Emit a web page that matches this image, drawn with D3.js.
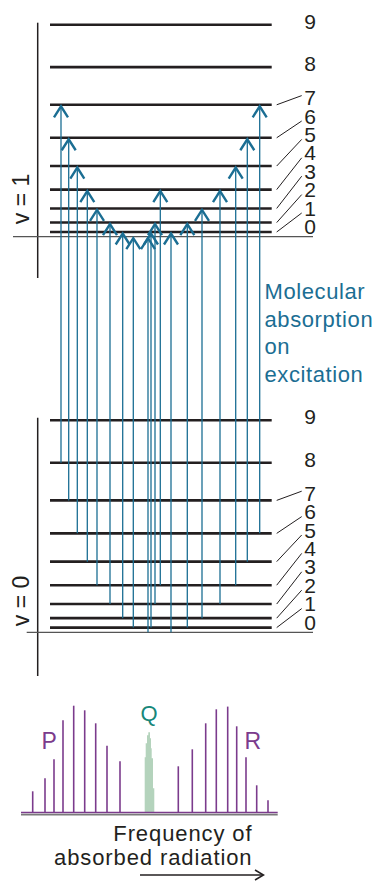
<!DOCTYPE html>
<html><head><meta charset="utf-8">
<script src="https://cdn.jsdelivr.net/npm/d3@7"></script>
<style>
html,body{margin:0;padding:0;background:#fff;}
svg{display:block;}
text{font-family:"Liberation Sans",Arial,sans-serif;}
</style></head>
<body>
<svg id="c" width="380" height="882"></svg>
<script>
// ---------- data ----------
const rotJ = [0,1,2,3,4,5,6,7,8,9];
const termEnergy = [0,2,6,12,20,30,42,56,72,90];          // J(J+1) units
// transitions (lower J'' -> upper J'), frequency offset from band origin
const pLowerJ = [1,2,3,4,5,6,7,8];
const pUpperJ = [0,1,2,3,4,5,6,7];
const pFreq   = [-16.7,-27.3,-40,-53,-62.7,-72.7,-81.3,-89];
const qLowerJ = [0,1,3,4];
const qUpperJ = [0,1,2,4];
const qFreq   = [-2,1,5,10.3];
const rLowerJ = [0,1,2,3,4,5,6];
const rUpperJ = [1,2,3,4,5,6,7];
const rFreq   = [21,37.3,52,70,85.7,97.3,109.7];
// spectrum
const pLineFreq = [-117.3,-105,-96,-87,-76.3,-65.3,-54.3,-43,-30];
const pLineInt  = [21,34,53,92,106.6,102,89,66.6,51];
const rLineFreq = [28.3,42.3,55.7,66.3,77.7,86.7,96,106.7,118];
const rLineInt  = [46,63,89,103,105.7,86,55,27,12];
const qBandFreq = [-5.3,-4.3,-3,-1.7,0,1,1.7,3,4.3];
const qBandInt  = [55,69,77,80,74,64,54,24,24];
const branchLabels = ["P","Q","R"];
const excitationText = ["Molecular","absorption","on","excitation"];
const axisText = ["Frequency of","absorbed radiation"];

// ---------- setup ----------
const svg = d3.select("#c");
const ink = "#231f20", blue = "#1b6e93", purple = "#7b3b8c", teal = "#17877a";

const x = d3.scaleLinear().domain([-130,130]).range([20,280]);
const yUp = d3.scaleLinear().domain([0,90]).range([236.7,24.7]);
const yLo = d3.scaleLinear().domain([0,90]).range([632.3,420.3]);
const yS  = d3.scaleLinear().domain([0,110]).range([812.3,702.3]);

function drawManifold(y, axisTop, axisBottom, vLabel){
  const g = svg.append("g");
  g.append("line").attr("x1",37.7).attr("x2",37.7).attr("y1",axisTop).attr("y2",axisBottom)
    .attr("stroke",ink).attr("stroke-width",1.5);
  g.append("line").attr("x1",y===yUp?13:26.7).attr("x2",313).attr("y1",y(0)).attr("y2",y(0))
    .attr("stroke","#555").attr("stroke-width",1.2);
  g.selectAll("line.lev").data(rotJ.filter(j=>j>0)).join("line").attr("class","lev")
    .attr("x1",50).attr("x2",271.7)
    .attr("y1",j=>y(termEnergy[j])).attr("y2",j=>y(termEnergy[j]))
    .attr("stroke",ink).attr("stroke-width",2.6);
  const base = y(0);
  const labelY = j => j<=7 ? base-10.3-18.4*j : y(termEnergy[j])-3.5;
  g.selectAll("line.lead").data(rotJ.filter(j=>j>=1&&j<=7)).join("line").attr("class","lead")
    .attr("x1",276.7).attr("y1",j=>y(termEnergy[j]))
    .attr("x2",301.7).attr("y2",j=>labelY(j)+(j===7?-2:5))
    .attr("stroke",ink).attr("stroke-width",1);
  g.selectAll("text.lab").data(rotJ).join("text").attr("class","lab")
    .attr("x",310).attr("y",j=>labelY(j)+7.6)
    .attr("text-anchor","middle").attr("font-size",21).attr("fill",ink)
    .text(j=>j);
  g.append("text").attr("transform",`translate(29,${vLabel}) rotate(-90)`)
    .attr("text-anchor","middle").attr("font-size",23).attr("fill",ink).text(y===yUp?"v = 1":"v = 0");
}
drawManifold(yUp, 22.7, 278, 199);
drawManifold(yLo, 417.7, 676, 601);

// ---------- transitions ----------
const trans = [];
pFreq.forEach((f,i)=>trans.push({f, lo:pLowerJ[i], up:pUpperJ[i]}));
qFreq.forEach((f,i)=>trans.push({f, lo:qLowerJ[i], up:qUpperJ[i]}));
rFreq.forEach((f,i)=>trans.push({f, lo:rLowerJ[i], up:rUpperJ[i]}));
const ag = svg.append("g");
ag.selectAll("line.shaft").data(trans).join("line").attr("class","shaft")
  .attr("x1",d=>x(d.f)).attr("x2",d=>x(d.f))
  .attr("y1",d=>yLo(termEnergy[d.lo])).attr("y2",d=>yUp(termEnergy[d.up])+1)
  .attr("stroke",blue).attr("stroke-width",1.3);
ag.selectAll("path.head").data(trans).join("path").attr("class","head")
  .attr("d",d=>{const X=x(d.f), Y=yUp(termEnergy[d.up])+1.5; return `M${X-7},${Y+11}L${X},${Y}L${X+7},${Y+11}`;})
  .attr("fill","none").attr("stroke",blue).attr("stroke-width",2.4);

svg.append("g").selectAll("text").data(excitationText).join("text")
  .attr("x",264.5).attr("y",(d,i)=>299+27.7*i)
  .attr("font-size",22).attr("letter-spacing",0.6).attr("fill",blue).text(d=>d);

// ---------- spectrum ----------
const sg = svg.append("g");
sg.append("path")
  .datum(qBandFreq.map((f,i)=>({f,v:qBandInt[i]})))
  .attr("d",d3.area().curve(d3.curveStepAfter).x(d=>x(d.f)).y0(yS(0)).y1(d=>yS(d.v)))
  .attr("fill","#b4d3bc");
const lines = pLineFreq.map((f,i)=>({f,v:pLineInt[i]})).concat(rLineFreq.map((f,i)=>({f,v:rLineInt[i]})));
sg.selectAll("line.sp").data(lines).join("line").attr("class","sp")
  .attr("x1",d=>x(d.f)).attr("x2",d=>x(d.f)).attr("y1",yS(0)).attr("y2",d=>yS(d.v))
  .attr("stroke",purple).attr("stroke-width",1.6);
sg.append("line").attr("x1",21).attr("x2",277.7).attr("y1",yS(0)+0.2).attr("y2",yS(0)+0.2)
  .attr("stroke",purple).attr("stroke-width",1.4);
sg.append("line").attr("x1",21).attr("x2",277.7).attr("y1",yS(0)+2.3).attr("y2",yS(0)+2.3)
  .attr("stroke","#7a7a7a").attr("stroke-width",1.6);

sg.append("text").attr("x",41.5).attr("y",749).attr("font-size",23).attr("fill",purple).text(branchLabels[0]);
sg.append("text").attr("x",149).attr("y",720.5).attr("text-anchor","middle").attr("font-size",22).attr("fill",teal).text(branchLabels[1]);
sg.append("text").attr("x",244.5).attr("y",749).attr("font-size",23).attr("fill",purple).text(branchLabels[2]);

sg.selectAll("text.ax").data(axisText).join("text").attr("class","ax")
  .attr("x",252.5).attr("y",(d,i)=>841+24*i).attr("text-anchor","end")
  .attr("font-size",22).attr("letter-spacing",0.9).attr("fill",ink).text(d=>d);
sg.append("line").attr("x1",140).attr("x2",263).attr("y1",875).attr("y2",875).attr("stroke",ink).attr("stroke-width",1.5);
sg.append("path").attr("d","M255,870L263.5,875L255,880").attr("fill","none").attr("stroke",ink).attr("stroke-width",1.5);
</script>
</body></html>
